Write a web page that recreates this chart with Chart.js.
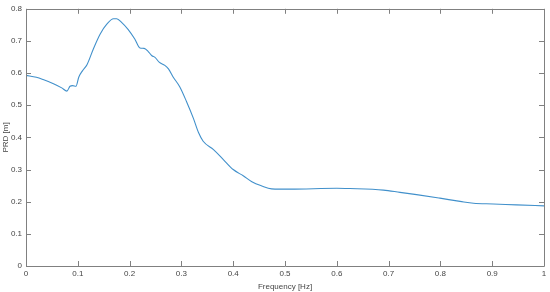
<!DOCTYPE html>
<html>
<head>
<meta charset="utf-8">
<script src="https://cdn.jsdelivr.net/npm/chart.js@4/dist/chart.umd.min.js"></script>
<style>
  html, body { margin: 0; padding: 0; background: #fff; }
  canvas { display: block; }
</style>
</head>
<body>
<canvas id="prdChart" width="550" height="292"></canvas>
<script>
// values
const freq = [0, 0.02, 0.033, 0.053, 0.069, 0.079, 0.085, 0.09, 0.0965, 0.102, 0.109, 0.118, 0.13, 0.143, 0.156, 0.169, 0.175, 0.185, 0.197, 0.21, 0.22, 0.228, 0.236, 0.243, 0.249, 0.257, 0.268, 0.275, 0.284, 0.297, 0.31, 0.323, 0.333, 0.342, 0.362, 0.381, 0.40, 0.42, 0.436, 0.455, 0.474, 0.51, 0.6, 0.625, 0.69, 0.722, 0.754, 0.799, 0.838, 0.864, 0.902, 0.947, 1.0];
const prd = [0.593, 0.587, 0.58, 0.567, 0.554, 0.544, 0.559, 0.561, 0.559, 0.588, 0.607, 0.627, 0.675, 0.721, 0.752, 0.769, 0.769, 0.757, 0.736, 0.706, 0.678, 0.677, 0.667, 0.654, 0.649, 0.634, 0.624, 0.613, 0.588, 0.557, 0.511, 0.46, 0.415, 0.388, 0.362, 0.331, 0.30, 0.28, 0.262, 0.249, 0.24, 0.239, 0.242, 0.241, 0.236, 0.229, 0.222, 0.211, 0.201, 0.195, 0.193, 0.19, 0.187];

const xLabel = 'Frequency [Hz]';
const yLabel = 'PRD [m]';

const axisColor = '#808080';
const textColor = '#454545';
const fontFamily = '"Liberation Sans", Arial, sans-serif';

// matlab style box with inward ticks on all four sides
const boxTicks = {
    id: 'boxTicks',
    afterDraw(chart) {
        const ctx = chart.ctx;
        const a = chart.chartArea;
        const xs = chart.scales.x, ys = chart.scales.y;
        const len = 5;
        ctx.save();
        ctx.strokeStyle = axisColor;
        ctx.lineWidth = 1;
        ctx.beginPath();
        ctx.rect(Math.round(a.left) + 0.5, Math.round(a.top) + 0.5, Math.round(a.right - a.left), Math.round(a.bottom - a.top));
        xs.ticks.forEach(t => {
            const px = Math.round(xs.getPixelForValue(t.value)) + 0.5;
            ctx.moveTo(px, a.bottom); ctx.lineTo(px, a.bottom - len);
            ctx.moveTo(px, a.top); ctx.lineTo(px, a.top + len);
        });
        ys.ticks.forEach(t => {
            const py = Math.round(ys.getPixelForValue(t.value)) + 0.5;
            ctx.moveTo(a.left, py); ctx.lineTo(a.left + len, py);
            ctx.moveTo(a.right, py); ctx.lineTo(a.right - len, py);
        });
        ctx.stroke();
        ctx.restore();
    }
};

const fmt = v => String(Number(v.toFixed(1)));

new Chart(document.getElementById('prdChart').getContext('2d'), {
    type: 'line',
    data: {
        datasets: [{
            data: freq.map((f, i) => ({ x: f, y: prd[i] })),
            borderColor: '#4190cb',
            borderWidth: 1.1,
            pointRadius: 0,
            fill: false,
            cubicInterpolationMode: 'monotone'
        }]
    },
    options: {
        responsive: false,
        animation: false,
        layout: { padding: { left: 0, right: 6, top: 6, bottom: 0 } },
        plugins: { legend: { display: false }, tooltip: { enabled: false } },
        scales: {
            x: {
                type: 'linear',
                min: 0, max: 1,
                ticks: { stepSize: 0.1, color: textColor, font: { family: fontFamily, size: 8 }, padding: 3, maxRotation: 0, callback: fmt },
                grid: { display: false, drawTicks: false },
                border: { display: false },
                title: { display: true, text: xLabel, color: textColor, font: { family: fontFamily, size: 8 }, padding: { top: 1, bottom: 0 } },
                afterFit(scale) { scale.height = 26; }
            },
            y: {
                min: 0, max: 0.8,
                ticks: { stepSize: 0.1, color: textColor, font: { family: fontFamily, size: 8 }, padding: 4, callback: fmt },
                grid: { display: false, drawTicks: false },
                border: { display: false },
                title: { display: true, text: yLabel, color: textColor, font: { family: fontFamily, size: 8 }, padding: { top: 1, bottom: 0 } },
                afterFit(scale) { scale.width = 26; }
            }
        }
    },
    plugins: [boxTicks]
});
</script>
</body>
</html>
